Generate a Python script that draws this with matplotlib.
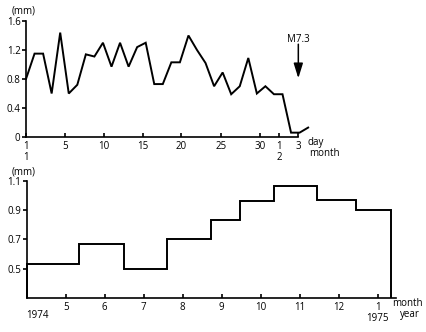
import numpy as np
import matplotlib
matplotlib.use("Agg")
import matplotlib.pyplot as plt

plt.rcParams['font.family'] = ['Open Sans', 'DejaVu Sans']

# ---- top panel: daily tilt, Jan 1 - Feb 3 1975 ----
days = np.arange(1, 35)
tilt = [0.80, 1.15, 1.15, 0.60, 1.44, 0.60, 0.72, 1.14, 1.11, 1.30,
        0.97, 1.30, 0.97, 1.24, 1.30, 0.73, 0.73, 1.03, 1.03, 1.40,
        1.20, 1.02, 0.70, 0.89, 0.59, 0.70, 1.09, 0.60, 0.70, 0.59,
        0.59, 0.06, 0.06, 0.13]
day_ticks = [1, 5.56, 10.12, 14.68, 19.13, 23.77, 28.33, 30.59, 32.85]
day_labels = ['1\n1', '5', '10', '15', '20', '25', '30', '1\n2', '3']
top_yticks = [0, 0.4, 0.8, 1.2, 1.6]
quake_label = 'M7.3'

# ---- bottom panel: monthly step values, Apr 1974 - Jan 1975 ----
step_edges = [4.0, 5.35, 6.49, 7.59, 8.72, 9.47, 10.34, 11.45, 12.45, 13.35]
step_values = [0.534, 0.665, 0.50, 0.70, 0.833, 0.965, 1.067, 0.973, 0.90]
month_ticks = [5, 6, 7, 8, 9, 10, 11, 12, 13]
month_labels = ['5', '6', '7', '8', '9', '10', '11', '12', '1\n1975']
bot_yticks = [0.5, 0.7, 0.9, 1.1]

W, H = 427, 332
fig = plt.figure(figsize=(W / 100, H / 100), dpi=100)

FS = 7
LW = 1.4

def style(ax):
    for s in ['top', 'right']:
        ax.spines[s].set_visible(False)
    for s in ['left', 'bottom']:
        ax.spines[s].set_linewidth(1.2)
    ax.tick_params(axis='x', direction='in', length=3, width=1.2, labelsize=FS, pad=3)
    ax.tick_params(axis='y', direction='out', length=3, width=1.2, labelsize=FS, pad=1)

# top axes
ax1 = fig.add_axes([26 / W, (H - 137) / H, (316.7 - 26) / W, 116 / H])
ax1.plot(days, tilt, color='black', lw=LW, clip_on=False, solid_joinstyle='miter')
ax1.set_xlim(1, 35)
ax1.set_ylim(0, 1.6)
style(ax1)
ax1.spines['bottom'].set_bounds(1, day_ticks[-1])
ax1.set_xticks(day_ticks)
ax1.set_xticklabels(day_labels, linespacing=1.0)
for lab in ax1.get_xticklabels():
    lab.set_verticalalignment('top')
ax1.set_yticks(top_yticks)
ax1.set_yticklabels(['0', '0.4', '0.8', '1.2', '1.6'])
ax1.annotate('', xy=(day_ticks[-1], 0.81), xytext=(day_ticks[-1], 1.28),
             arrowprops=dict(arrowstyle='-|>,head_length=0.45,head_width=0.14',
                             mutation_scale=20, color='black', lw=1.1,
                             shrinkA=0, shrinkB=0),
             annotation_clip=False)
ax1.text(day_ticks[-1], 1.35, quake_label, ha='center', va='center', fontsize=FS)

fig.text(12 / W, 1 - 11 / H, '(mm)', fontsize=FS, ha='left', va='center')
fig.text(308 / W, 1 - 143 / H, 'day', fontsize=FS, ha='left', va='center')
fig.text(309 / W, 1 - 154 / H, 'month', fontsize=FS, ha='left', va='center')

# bottom axes
ax2 = fig.add_axes([26.7 / W, (H - 297.7) / H, 374.4 / W, 116.7 / H])
ax2.stairs(step_values, step_edges, baseline=0.3, color='black', lw=LW,
           clip_on=False)
ax2.set_xlim(4, 13.6)
ax2.set_ylim(0.3, 1.1)
style(ax2)
ax2.spines['bottom'].set_bounds(4, 13.47)
ax2.spines['left'].set_bounds(0.3, 1.1)
ax2.set_xticks(month_ticks)
ax2.set_xticklabels(month_labels, linespacing=1.0)
ax2.set_yticks(bot_yticks)
ax2.set_yticklabels(['0.5', '0.7', '0.9', '1.1'])

fig.text(12 / W, 1 - 172 / H, '(mm)', fontsize=FS, ha='left', va='center')
fig.text(26 / W, 1 - 315 / H, '1974', fontsize=FS, ha='left', va='center')
fig.text(392 / W, 1 - 304 / H, 'month', fontsize=FS, ha='left', va='center')
fig.text(400 / W, 1 - 315 / H, 'year', fontsize=FS, ha='left', va='center')

fig.savefig('out.png', dpi=100)
